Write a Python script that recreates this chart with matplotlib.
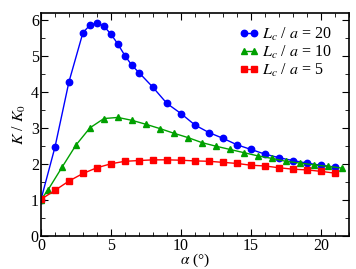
import matplotlib
matplotlib.use('Agg')
import matplotlib.pyplot as plt
from matplotlib.ticker import MultipleLocator

plt.rcParams['font.family'] = ['Liberation Serif', 'DejaVu Serif']
plt.rcParams['mathtext.fontset'] = 'stix'

alpha_20 = [0, 1, 2, 3, 3.5, 4, 4.5, 5, 5.5, 6, 6.5, 7, 8, 9, 10, 11, 12, 13, 14, 15, 16, 17, 18, 19, 20, 21]
k_20 = [1.0, 2.46, 4.28, 5.65, 5.86, 5.92, 5.83, 5.61, 5.33, 5.01, 4.74, 4.54, 4.13, 3.68, 3.40, 3.08, 2.87, 2.71,
        2.53, 2.40, 2.27, 2.17, 2.09, 2.02, 1.96, 1.91]

alpha_10 = [0, 0.5, 1.5, 2.5, 3.5, 4.5, 5.5, 6.5, 7.5, 8.5, 9.5, 10.5, 11.5, 12.5, 13.5, 14.5, 15.5, 16.5, 17.5,
            18.5, 19.5, 20.5, 21.5]
k_10 = [1.0, 1.27, 1.90, 2.52, 3.00, 3.26, 3.29, 3.21, 3.10, 2.98, 2.85, 2.73, 2.59, 2.49, 2.40, 2.31, 2.22, 2.15,
        2.07, 2.02, 1.97, 1.93, 1.88]

alpha_5 = [0, 1, 2, 3, 4, 5, 6, 7, 8, 9, 10, 11, 12, 13, 14, 15, 16, 17, 18, 19, 20, 21]
k_5 = [1.01, 1.26, 1.52, 1.73, 1.89, 2.00, 2.07, 2.09, 2.11, 2.11, 2.10, 2.08, 2.07, 2.04, 2.01, 1.96, 1.94, 1.89,
       1.85, 1.83, 1.79, 1.74]

fig = plt.figure(figsize=(3.56, 2.69), dpi=100)
ax = fig.add_axes([0.115, 0.124, 0.865, 0.828])

ax.plot(alpha_20, k_20, '-o', color='#0000ff', markersize=4.6, linewidth=1, label='$L_c$ / $a$ = 20')
ax.plot(alpha_10, k_10, '-^', color='#00a000', markersize=4.6, linewidth=1, label='$L_c$ / $a$ = 10')
ax.plot(alpha_5, k_5, '-s', color='#ff0000', markersize=4, linewidth=1, label='$L_c$ / $a$ = 5')

ax.set_xlim(0, 22)
ax.set_ylim(0, 6.2)
ax.xaxis.set_major_locator(MultipleLocator(5))
ax.xaxis.set_minor_locator(MultipleLocator(1))
ax.yaxis.set_major_locator(MultipleLocator(1))
ax.yaxis.set_minor_locator(MultipleLocator(0.5))
ax.tick_params(which='both', direction='in', top=True, right=True, labelsize=11.5, pad=1.5)
ax.tick_params(which='major', length=5)
ax.tick_params(which='minor', length=3)
for s in ax.spines.values():
    s.set_linewidth(1.2)

ax.set_xlabel(r'$\alpha$ (°)', fontsize=11, labelpad=-1.5)
ax.set_ylabel('$K$ / $K_0$', fontsize=11.5, labelpad=2)

ax.legend(loc='upper right', frameon=False, numpoints=2, fontsize=11.5, handlelength=1.2, handletextpad=0.2,
          labelspacing=0.05, borderaxespad=0.4, bbox_to_anchor=(0.985, 1.0))

plt.savefig('out.png', dpi=100)
plt.close()
